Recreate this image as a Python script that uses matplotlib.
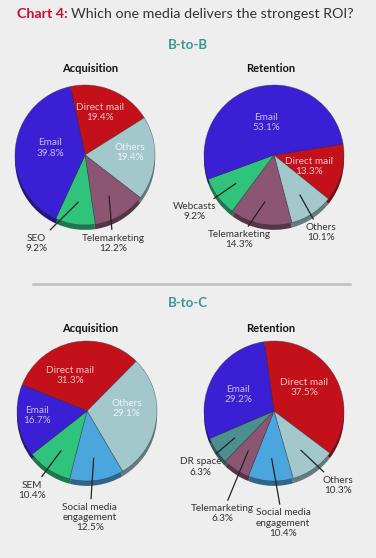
import matplotlib
matplotlib.use("Agg")
import matplotlib.pyplot as plt
import matplotlib.colors as mcolors
import numpy as np

plt.rcParams['font.family'] = ['Lato', 'DejaVu Sans']

# ---------------- data ----------------
b2b_acq_labels = ["Direct mail", "Others", "Telemarketing", "SEO", "Email"]
b2b_acq_values = [19.4, 19.4, 12.2, 9.2, 39.8]

b2b_ret_labels = ["Direct mail", "Others", "Telemarketing", "Webcasts", "Email"]
b2b_ret_values = [13.3, 10.1, 14.3, 9.2, 53.1]

b2c_acq_labels = ["Direct mail", "Others", "Social media\nengagement", "SEM", "Email"]
b2c_acq_values = [31.3, 29.1, 12.5, 10.4, 16.7]

b2c_ret_labels = ["Direct mail", "Others", "Social media\nengagement", "Telemarketing", "DR space", "Email"]
b2c_ret_values = [37.5, 10.3, 10.4, 6.3, 6.3, 29.2]

# ---------------- style ----------------
W, H = 376, 558
BG = '#eeeeee'
colors = {
    "Email": '#3b1fd4',
    "Direct mail": '#c4101a',
    "Others": '#a3c8cb',
    "Telemarketing": '#8c5672',
    "SEO": '#2fc37c',
    "SEM": '#2fc37c',
    "Webcasts": '#2fc37c',
    "Social media\nengagement": '#4ba6de',
    "DR space": '#4d8e8e',
}
inside_color = {"Email": '#c9b8ff', "Direct mail": '#ffc4c4', "Others": '#eef6f6'}
R = 70  # pie radius in px


def darken(c, f):
    r, g, b = mcolors.to_rgb(c)
    return (r * f, g * f, b * f)


fig = plt.figure(figsize=(W / 100, H / 100), dpi=100)
fig.patch.set_facecolor(BG)


def draw_pie(cx, cy, labels, values, start, label_xy, inside):
    half = 1.8
    size = 2 * half * R
    ax = fig.add_axes([(cx - half * R) / W, 1 - (cy + half * R) / H, size / W, size / H])
    cols = [colors[l] for l in labels]
    ax.pie(values, colors=[darken(c, 0.62) for c in cols], startangle=start,
           counterclock=False, center=(0, -0.07), radius=1.0,
           wedgeprops=dict(edgecolor='none'))
    wedges, _ = ax.pie(values, colors=cols, startangle=start, counterclock=False,
                       radius=1.0,
                       wedgeprops=dict(edgecolor=(0.2, 0.2, 0.25, 0.5), linewidth=0.5))
    ax.set_xlim(-half, half)
    ax.set_ylim(-half, half)
    ax.set_aspect('equal')
    ax.axis('off')
    for w, lab, v in zip(wedges, labels, values):
        tx, ty = label_xy[lab]
        txt = f"{lab}\n{v:.1f}%"
        if lab in inside:
            ax.text(tx, ty, txt, ha='center', va='center', fontsize=7.2,
                    color=inside_color[lab], linespacing=1.15)
        else:
            mid = np.deg2rad((w.theta1 + w.theta2) / 2)
            ax.annotate(txt, xy=(0.68 * np.cos(mid), 0.68 * np.sin(mid)), xytext=(tx, ty),
                        ha='center', va='center', fontsize=7.2, color='#333333',
                        linespacing=1.15, annotation_clip=False,
                        arrowprops=dict(arrowstyle='-', color='#222222', lw=0.9,
                                        shrinkA=1, shrinkB=0))


draw_pie(85, 155, b2b_acq_labels, b2b_acq_values, 102, {
    "Email": (-0.5, 0.1), "Direct mail": (0.21, 0.61), "Others": (0.64, 0.04),
    "SEO": (-0.69, -1.26), "Telemarketing": (0.4, -1.26)},
    inside={"Email", "Direct mail", "Others"})
draw_pie(274, 155, b2b_ret_labels, b2b_ret_values, 9, {
    "Email": (-0.11, 0.46), "Direct mail": (0.5, -0.17), "Others": (0.67, -1.11),
    "Telemarketing": (-0.5, -1.21), "Webcasts": (-1.13, -0.81)},
    inside={"Email", "Direct mail"})
draw_pie(87, 411, b2c_acq_labels, b2c_acq_values, 158, {
    "Direct mail": (-0.24, 0.51), "Email": (-0.71, -0.06), "Others": (0.57, 0.04),
    "SEM": (-0.79, -1.13), "Social media\nengagement": (0.04, -1.52)},
    inside={"Email", "Direct mail", "Others"})
draw_pie(274, 411, b2c_ret_labels, b2c_ret_values, 98, {
    "Email": (-0.51, 0.23), "Direct mail": (0.43, 0.33), "Others": (0.91, -1.06),
    "Social media\nengagement": (0.13, -1.6), "Telemarketing": (-0.74, -1.47),
    "DR space": (-1.05, -0.8)},
    inside={"Email", "Direct mail"})


def fx(x):
    return x / W


def fy(y):
    return 1 - y / H


# title
renderer = fig.canvas.get_renderer()
t1 = fig.text(fx(17), fy(14), "Chart 4:", fontsize=10.3, fontweight='bold',
              color='#c8102e', va='center', ha='left')
bb = t1.get_window_extent(renderer=renderer)
fig.text(bb.x1 / W + 3 / W, fy(14), "Which one media delivers the strongest ROI?",
         fontsize=10.3, color='#333333', va='center', ha='left')

# section headers
for y, s in [(45, "B-to-B"), (303, "B-to-C")]:
    fig.text(fx(188), fy(y), s, fontsize=9.5, fontweight='bold', color='#3a9696',
             ha='center', va='center')
for x, y, s in [(90, 69, "Acquisition"), (271, 69, "Retention"),
                (90, 328, "Acquisition"), (271, 328, "Retention")]:
    fig.text(fx(x), fy(y), s, fontsize=8, fontweight='bold', color='#111111',
             ha='center', va='center')

# divider
fig.add_artist(plt.Line2D([fx(33), fx(350)], [fy(284), fy(284)], color='#bdbdbd',
                          lw=1.8, transform=fig.transFigure))

fig.savefig('out.png', dpi=100, facecolor=BG)
